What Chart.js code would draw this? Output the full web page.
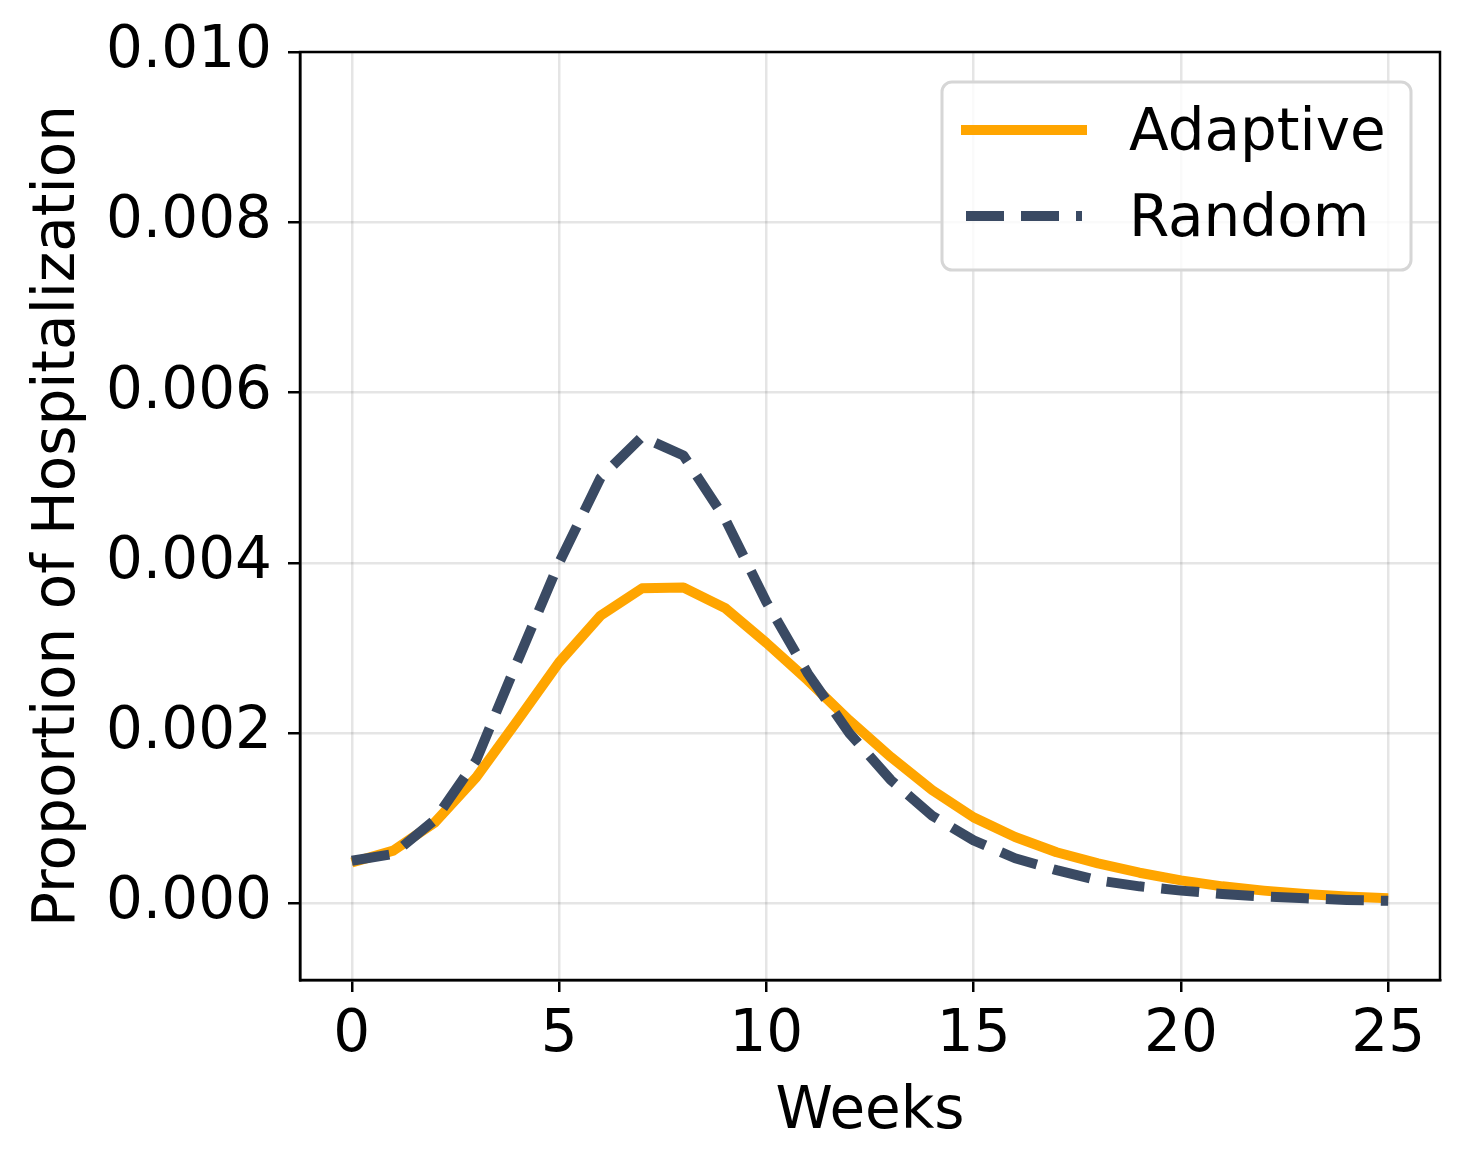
<!DOCTYPE html>
<html>
<head>
<meta charset="utf-8">
<script src="https://cdn.jsdelivr.net/npm/chart.js@4.4.0/dist/chart.umd.min.js"></script>
<style>
  html, body { margin: 0; padding: 0; background: #ffffff; }
  #wrap { width: 1469px; height: 1170px; }
</style>
</head>
<body>
<div id="wrap"><canvas id="myChart" width="1469" height="1170"></canvas></div>
<script>
// semanas 0..25
const semanas = [0, 1, 2, 3, 4, 5, 6, 7, 8, 9, 10, 11, 12, 13, 14, 15, 16, 17, 18, 19, 20, 21, 22, 23, 24, 25];

// valores
const adaptive = [0.00048, 0.00062, 0.00095, 0.00148, 0.00215, 0.00283, 0.00338, 0.00370, 0.00371, 0.00347,
    0.00306, 0.00262, 0.00215, 0.00172, 0.00133, 0.00101, 0.00078, 0.00060, 0.00047, 0.00036,
    0.00027, 0.00020, 0.00015, 0.00011, 0.00008, 0.00006];
const random = [0.00050, 0.00058, 0.00098, 0.00168, 0.00285, 0.00400, 0.00500, 0.00548, 0.00526, 0.00452,
    0.00354, 0.00270, 0.00200, 0.00145, 0.00103, 0.00074, 0.00053, 0.00039, 0.00027, 0.00020,
    0.00015, 0.00011, 0.00008, 0.00006, 0.00004, 0.00003];

const xTicks = [0, 5, 10, 15, 20, 25];
const yTicks = [0.000, 0.002, 0.004, 0.006, 0.008, 0.010];

const fuente = "'DejaVu Sans', sans-serif";
const tam = 58;

function puntos(valores) {
    return semanas.map((s, i) => ({ x: s, y: valores[i] }));
}

// marco completo del area (matplotlib dibuja los 4 bordes)
const marco = {
    id: 'marco',
    afterDatasetsDraw(chart) {
        const a = chart.chartArea;
        const ctx = chart.ctx;
        ctx.save();
        ctx.strokeStyle = '#000000';
        ctx.lineWidth = 2.5;
        ctx.strokeRect(a.left, a.top, a.right - a.left, a.bottom - a.top);
        ctx.restore();
    }
};

// leyenda dentro del grafico, arriba a la derecha
const leyenda = {
    id: 'leyenda',
    afterDraw(chart) {
        const ctx = chart.ctx;
        const a = chart.chartArea;
        const x0 = a.right - 29, y0 = a.top + 30;
        const w = 469, h = 188;
        const izq = x0 - w;
        ctx.save();
        ctx.fillStyle = 'rgba(255,255,255,0.8)';
        ctx.strokeStyle = '#d6d6d6';
        ctx.lineWidth = 3;
        ctx.beginPath();
        ctx.roundRect(izq, y0, w, h, 10);
        ctx.fill();
        ctx.stroke();
        chart.data.datasets.forEach((ds, i) => {
            const cy = y0 + 48 + i * 86;
            ctx.strokeStyle = ds.borderColor;
            ctx.lineWidth = ds.borderWidth;
            ctx.setLineDash(ds.borderDash || []);
            ctx.lineCap = 'butt';
            ctx.beginPath();
            if (ds.borderDash) {
                ctx.moveTo(izq + 24, cy);
                ctx.lineTo(izq + 140, cy);
            } else {
                ctx.moveTo(izq + 19, cy);
                ctx.lineTo(izq + 145, cy);
            }
            ctx.stroke();
            ctx.setLineDash([]);
            ctx.fillStyle = '#000000';
            ctx.font = tam + 'px ' + fuente;
            ctx.textBaseline = 'middle';
            ctx.fillText(ds.label, izq + 187, cy + 5);
        });
        ctx.restore();
    }
};

const ctx = document.getElementById('myChart');
new Chart(ctx, {
    type: 'line',
    data: {
        datasets: [{
            label: 'Adaptive',
            data: puntos(adaptive),
            borderColor: '#FFA500',
            borderWidth: 10,
            pointRadius: 0,
            tension: 0,
            order: 2,
            borderJoinStyle: 'round'
        }, {
            label: 'Random',
            data: puntos(random),
            borderColor: '#3A4A63',
            borderWidth: 10,
            borderDash: [38, 17],
            pointRadius: 0,
            tension: 0,
            order: 1,
            borderJoinStyle: 'round'
        }]
    },
    options: {
        responsive: false,
        animation: false,
        devicePixelRatio: 1,
        layout: { padding: { left: 20, right: 29, top: 52, bottom: 18 } },
        plugins: {
            legend: { display: false },
            tooltip: { enabled: false }
        },
        scales: {
            x: {
                type: 'linear',
                min: -1.25,
                max: 26.25,
                afterBuildTicks(scale) { scale.ticks = xTicks.map(v => ({ value: v })); },
                afterFit(scale) { scale.height = 172; },
                grid: { color: 'rgba(0,0,0,0.1)', lineWidth: 2.5, tickColor: '#000', tickLength: 12, tickWidth: 2.5 },
                border: { color: '#000', width: 2.5 },
                ticks: { color: '#000', font: { family: fuente, size: tam }, padding: 9, maxRotation: 0 },
                title: { display: true, text: 'Weeks', color: '#000', font: { family: fuente, size: tam }, padding: { top: 2 } }
            },
            y: {
                min: -0.0009,
                max: 0.010,
                afterBuildTicks(scale) { scale.ticks = yTicks.map(v => ({ value: v })); },
                afterFit(scale) { scale.width = 280; },
                grid: { color: 'rgba(0,0,0,0.1)', lineWidth: 2.5, tickColor: '#000', tickLength: 12, tickWidth: 2.5 },
                border: { color: '#000', width: 2.5 },
                ticks: { color: '#000', font: { family: fuente, size: tam }, padding: 16,
                    callback: v => v.toFixed(3) },
                title: { display: true, text: 'Proportion of Hospitalization', color: '#000', font: { family: fuente, size: tam }, padding: { bottom: 0 } }
            }
        }
    },
    plugins: [marco, leyenda]
});
</script>
</body>
</html>
